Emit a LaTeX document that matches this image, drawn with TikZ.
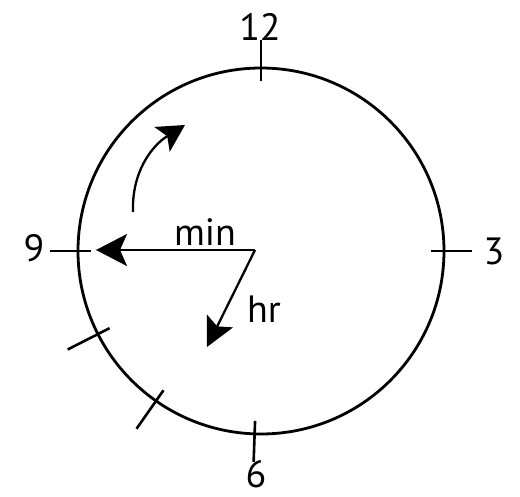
\documentclass[tikz,border=0pt]{standalone}
\usepackage{fontspec}
\setmainfont{PT Sans}
\usetikzlibrary{arrows.meta}
\tikzset{>={Stealth[length=31pt,width=32pt,inset=7pt]}}
\tikzset{
  face/.style={line width=2.8pt},
  clocktick/.style={line width=2.6pt},
  hand/.style={line width=2.3pt, ->},
  numlabel/.style={font=\fontsize{38}{44}\selectfont, inner sep=0pt}
}

\begin{document}
\begin{tikzpicture}[x=1pt,y=1pt]
    \def\R{183}   % radius clock face
    \def\TI{170}  % tick inner radius
    \def\TO{211}  % tick outer radius
    \useasboundingbox (-261,-245) rectangle (259,251);

    \draw[face] (0,0) circle (\R);
    \foreach \a in {0,90,180,268}
        \draw[clocktick] (\a:\TI) -- (\a:\TO);
    \foreach \a in {207,235}
        \draw[clocktick] (\a:\TI) -- (\a:217);

    \node[numlabel] (twelve) at (-1,224) {12};
    \node[numlabel] (three) at (233,0) {3};
    \node[numlabel] (nine) at (-227,3) {9};
    \node[numlabel] (six) at (-5,-223) {6};

    \coordinate (pivot) at (-6,1);
    \coordinate (mintip) at (-165,1);
    \coordinate (hrtip) at (-54,-96);
    \draw[hand] (pivot) -- (mintip);
    \draw[hand, -{Stealth[length=29pt,width=29pt,inset=6pt]}] (pivot) -- (hrtip);
    \node[numlabel, anchor=base] (min) at (-56,6) {min};
    \node[numlabel, anchor=base] (hr) at (3,-71) {hr};

    % direction of motion
    \coordinate (turnA) at (-128,39);
    \coordinate (turnB) at (-76,126);
    \draw[hand, -{Stealth[length=27pt,width=29pt,inset=6pt]}] (turnA) to[out=92, in=212] (turnB);
\end{tikzpicture}
\end{document}
